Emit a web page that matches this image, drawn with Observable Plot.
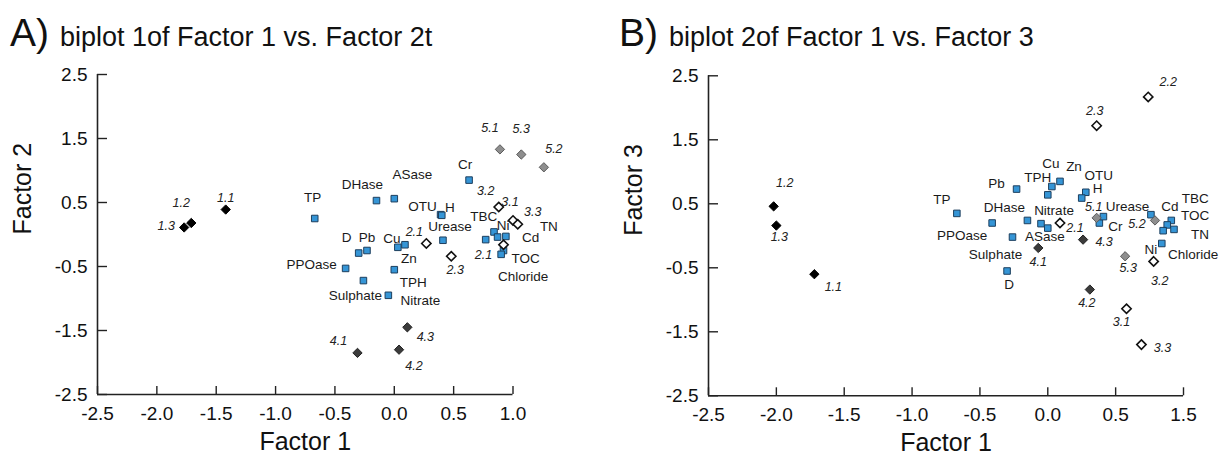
<!DOCTYPE html>
<html>
<head>
<meta charset="utf-8">
<script src="https://cdn.jsdelivr.net/npm/d3@7"></script>
<script src="https://cdn.jsdelivr.net/npm/@observablehq/plot@0.6"></script>
<style>
  html, body { margin: 0; padding: 0; background: #fff; }
  #root { position: relative; width: 1231px; height: 460px; overflow: hidden; font-family: "Liberation Sans", Arial, Helvetica, sans-serif; color: #111; }
  .ttl { position: absolute; top: 13px; display: flex; align-items: baseline; white-space: nowrap; line-height: 1; }
  .ttl .big { font-size: 39px; }
  .ttl .txt { font-size: 27px; margin-left: 11px; }
  .panel { position: absolute; top: 50px; }
</style>
</head>
<body>
<div id="root">
  <div class="ttl" style="left:10px"><span class="big">A)</span><span class="txt">biplot 1of Factor 1 vs. Factor 2t</span></div>
  <div class="ttl" style="left:619px"><span class="big">B)</span><span class="txt">biplot 2of Factor 1 vs. Factor 3</span></div>
  <div id="pa" class="panel" style="left:0px"></div>
  <div id="pb" class="panel" style="left:615px"></div>
</div>
<script>
// ---------- DATA ----------
const variables = ["TP","DHase","ASase","Cr","OTU","H","Urease","D","Pb","Cu","Zn","PPOase","Sulphate","TPH","Nitrate","TBC","Ni","TN","Cd","TOC","Chloride"];

// Panel A: Factor 1 vs Factor 2
const varFactor1A = [-0.67,-0.15,0.00,0.63,0.39,0.40,0.41,-0.30,-0.23,0.03,0.09,-0.41,-0.26,0.00,-0.05,0.77,0.84,0.94,0.87,0.92,0.90];
const varFactor2A = [0.25,0.53,0.56,0.85,0.31,0.30,-0.09,-0.29,-0.25,-0.20,-0.16,-0.53,-0.72,-0.55,-0.95,-0.08,0.04,-0.03,-0.04,-0.25,-0.31];
const samplesA = ["1.1","1.2","1.3","2.1","2.1","2.3","3.1","3.2","3.3","4.1","4.2","4.3","5.1","5.2","5.3"];
const sampFactor1A = [-1.42,-1.71,-1.77,0.27,0.92,0.48,1.00,0.88,1.04,-0.31,0.04,0.11,0.89,1.26,1.07];
const sampFactor2A = [0.39,0.18,0.11,-0.14,-0.16,-0.34,0.22,0.43,0.16,-1.85,-1.80,-1.45,1.33,1.05,1.25];

// Panel B: Factor 1 vs Factor 3
const varFactor1B = [-0.67,-0.15,0.00,0.38,0.28,0.25,0.41,-0.30,-0.23,0.03,0.09,-0.41,-0.26,0.00,-0.05,0.91,0.84,0.93,0.76,0.88,0.85];
const varFactor3B = [0.35,0.24,0.12,0.20,0.68,0.59,0.30,-0.55,0.73,0.77,0.85,0.20,-0.02,0.64,0.19,0.24,-0.12,0.10,0.33,0.17,0.08];
const samplesB = ["1.1","1.2","1.3","2.1","2.2","2.3","3.1","3.2","3.3","4.1","4.2","4.3","5.1","5.2","5.3"];
const sampFactor1B = [-1.72,-2.02,-2.00,0.09,0.74,0.36,0.58,0.78,0.69,-0.07,0.31,0.26,0.36,0.79,0.57];
const sampFactor3B = [-0.60,0.46,0.16,0.20,2.17,1.72,-1.14,-0.40,-1.70,-0.19,-0.84,-0.06,0.28,0.24,-0.32];

// Axis ticks and their labels (panel B's last tick is labelled "1.5" in the original)
const xTicks = [-2.5,-2.0,-1.5,-1.0,-0.5,0.0,0.5,1.0];
const xTickLabelsA = ["-2.5","-2.0","-1.5","-1.0","-0.5","0.0","0.5","1.0"];
const xTickLabelsB = ["-2.5","-2.0","-1.5","-1.0","-0.5","0.0","0.5","1.5"];
const yTicks = [-2.5,-1.5,-0.5,0.5,1.5,2.5];
const yTickLabels = ["-2.5","-1.5","-0.5","0.5","1.5","2.5"];

// ---------- LAYOUT (label offsets in px, aligned with the arrays above) ----------
const varLabelOffA = [[-2,-21],[-14,-16],[18,-24],[-4,-15],[-18,-8],[8,-8],[7,-14],[-12,-15],[0,-13],[-6,-9],[4,14],[-34,-4],[-8,15],[19,13],[32,5],[-2,-23],[9,-6],[43,-10],[33,1],[22,8],[22,22]];
const sampLabelOffA = [[0,-12],[-10,-20],[-18,-1],[-12,-11],[-20,10],[4,14],[-3,-18],[-13,-16],[15,-12],[-19,-12],[15,16],[18,10],[-10,-21],[10,-18],[0,-26]];
const varLabelOffB = [[-15,-14],[-23,-13],[-3,9],[16,4],[13,-17],[16,-9],[24,-10],[2,14],[-20,-5],[-1,-23],[14,-15],[-30,13],[-17,18],[-10,-17],[13,-13],[24,-22],[-11,6],[26,5],[19,-8],[28,-9],[30,24]];
const sampLabelOffB = [[19,13],[11,-23],[3,11],[15,5],[20,-15],[-2,-15],[-5,13],[6,20],[21,3],[0,14],[-3,13],[21,2],[-3,-11],[-18,4],[3,12]];

const FONT = "Liberation Sans, Arial, Helvetica, sans-serif";
const groupStyle = {
  "1": {fill: "#000000", stroke: "#000000", sw: 1},
  "2": {fill: "#ffffff", stroke: "#111111", sw: 1.6},
  "3": {fill: "#ffffff", stroke: "#111111", sw: 1.6},
  "4": {fill: "#3b3b3b", stroke: "#222222", sw: 1},
  "5": {fill: "#8e8e8e", stroke: "#5a5a5a", sw: 1}
};

function panel(cfg) {
  const H = 410;
  const frameW = cfg.width - cfg.ml - cfg.mr;
  const frameH = H - cfg.mt - cfg.mb;
  const vars = variables.map((name, i) => ({name, x: cfg.vx[i], y: cfg.vy[i], off: cfg.vOff[i]}));
  const samps = cfg.sNames.map((name, i) => ({name, x: cfg.sx[i], y: cfg.sy[i], off: cfg.sOff[i], g: name.split(".")[0]}));
  const xfmt = new Map(xTicks.map((t, i) => [t, cfg.xLabels[i]]));
  const yfmt = new Map(yTicks.map((t, i) => [t, yTickLabels[i]]));

  const marks = [
    Plot.ruleX([-2.5], {stroke: "#222", strokeWidth: 1.6}),
    Plot.ruleY([-2.5], {stroke: "#222", strokeWidth: 1.6}),
    Plot.tickX(xTicks, {x: d => d, insetTop: frameH - 8, stroke: "#222", strokeWidth: 1.4}),
    Plot.tickY(yTicks, {y: d => d, insetRight: frameW - 10, stroke: "#222", strokeWidth: 1.4}),
    Plot.text(["Factor 1"], {frameAnchor: "bottom", dy: 55, fontSize: 25, fill: "#111", fontFamily: FONT}),
    Plot.text([cfg.yLabel], {frameAnchor: "left", dx: -75, rotate: -90, fontSize: 25, fill: "#111", fontFamily: FONT}),
    Plot.dot(vars, {x: "x", y: "y", symbol: "square", r: 3.7, fill: "#3595d6", stroke: "#1d3f5e", strokeWidth: 1})
  ];
  for (const g of ["1","2","3","4","5"]) {
    const st = groupStyle[g];
    marks.push(Plot.dot(samps.filter(d => d.g === g), {x: "x", y: "y", symbol: "diamond2", r: 4.2, fill: st.fill, stroke: st.stroke, strokeWidth: st.sw}));
  }
  for (const d of vars) {
    marks.push(Plot.text([d], {x: "x", y: "y", text: "name", dx: d.off[0], dy: d.off[1], fontSize: 13.5, fill: "#1a1a1a", fontFamily: FONT}));
  }
  for (const d of samps) {
    marks.push(Plot.text([d], {x: "x", y: "y", text: "name", dx: d.off[0], dy: d.off[1], fontSize: 12.5, fontStyle: "italic", fill: "#222", fontFamily: FONT}));
  }

  return Plot.plot({
    width: cfg.width,
    height: H,
    marginLeft: cfg.ml, marginRight: cfg.mr, marginTop: cfg.mt, marginBottom: cfg.mb,
    style: {fontFamily: FONT, fontSize: "19px", color: "#111", background: "transparent", overflow: "visible"},
    x: {domain: [-2.5, 1.0], ticks: xTicks, tickFormat: d => xfmt.get(d), tickSize: 0, tickPadding: 12, label: null},
    y: {domain: [-2.5, 2.5], ticks: yTicks, tickFormat: d => yfmt.get(d), tickSize: 0, tickPadding: 10, label: null},
    marks
  });
}

document.getElementById("pa").append(panel({
  width: 615, ml: 97, mr: 102.5, mt: 24, mb: 66,
  xLabels: xTickLabelsA, yLabel: "Factor 2",
  vx: varFactor1A, vy: varFactor2A, vOff: varLabelOffA,
  sNames: samplesA, sx: sampFactor1A, sy: sampFactor2A, sOff: sampLabelOffA
}));
document.getElementById("pb").append(panel({
  width: 616, ml: 93, mr: 48, mt: 25.3, mb: 64.7,
  xLabels: xTickLabelsB, yLabel: "Factor 3",
  vx: varFactor1B, vy: varFactor3B, vOff: varLabelOffB,
  sNames: samplesB, sx: sampFactor1B, sy: sampFactor3B, sOff: sampLabelOffB
}));
</script>
</body>
</html>
